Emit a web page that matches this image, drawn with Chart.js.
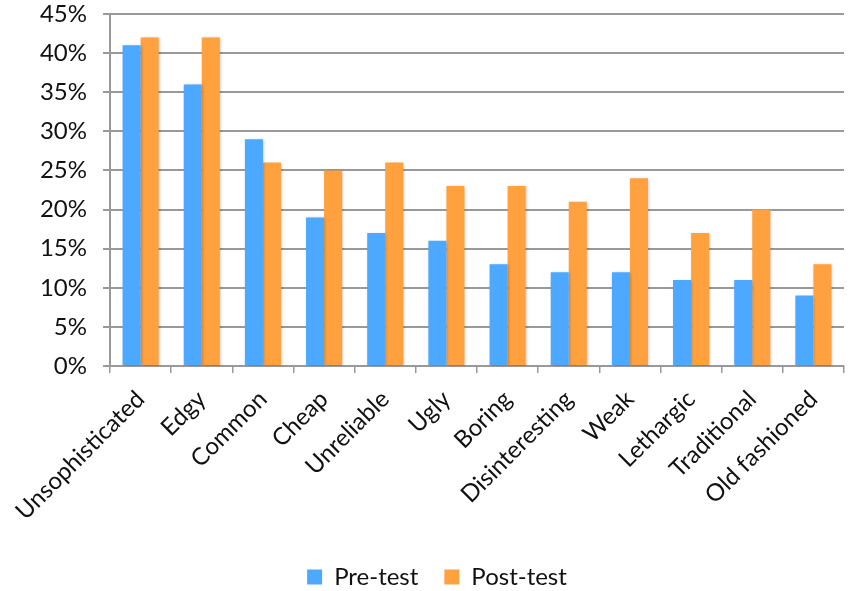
<!DOCTYPE html>
<html>
<head>
<meta charset="utf-8">
<script src="https://cdn.jsdelivr.net/npm/chart.js@4"></script>
<style>
  html, body { margin: 0; padding: 0; background: #fff; }
  #wrap { width: 852px; height: 591px; }
</style>
</head>
<body>
<div id="wrap"><canvas id="c" width="852" height="591"></canvas></div>
<script>
const categories = ['Unsophisticated', 'Edgy', 'Common', 'Cheap', 'Unreliable', 'Ugly',
  'Boring', 'Disinteresting', 'Weak', 'Lethargic', 'Traditional', 'Old fashioned'];
const preTest = [41, 36, 29, 19, 17, 16, 13, 12, 12, 11, 11, 9];
const postTest = [42, 42, 26, 25, 26, 23, 23, 21, 24, 17, 20, 13];
const seriesNames = ['Pre-test', 'Post-test'];

const FONT = 'Lato, "Open Sans", sans-serif';
const GRID = '#999999';

// soft drop shadow under the bars
const barShadow = {
  id: 'barShadow',
  beforeDatasetsDraw(chart) {
    const ctx = chart.ctx;
    ctx.save();
    ctx.shadowColor = 'rgba(0,0,0,0.25)';
    ctx.shadowBlur = 3;
    ctx.shadowOffsetX = 1;
    ctx.shadowOffsetY = 1;
  },
  afterDatasetsDraw(chart) {
    chart.ctx.restore();
  }
};

new Chart(document.getElementById('c'), {
  type: 'bar',
  data: {
    labels: categories,
    datasets: [
      { label: seriesNames[0], data: preTest, backgroundColor: '#4DA8FF' },
      { label: seriesNames[1], data: postTest, backgroundColor: '#FFA13F' }
    ]
  },
  plugins: [barShadow],
  options: {
    responsive: false,
    animation: false,
    devicePixelRatio: 1,
    layout: { padding: { left: 30, right: 8, top: 14, bottom: -8 } },
    datasets: { bar: { categoryPercentage: 0.59, barPercentage: 1.0 } },
    plugins: {
      title: { display: false },
      tooltip: { enabled: false },
      legend: {
        position: 'bottom',
        labels: {
          color: '#111',
          font: { family: FONT, size: 24 },
          boxWidth: 15,
          boxHeight: 15,
          padding: 26
        }
      }
    },
    scales: {
      x: {
        grid: { display: true, drawOnChartArea: false, drawTicks: true, tickLength: 7, offset: true, color: GRID, lineWidth: 1.5 },
        border: { display: true, color: GRID, width: 2 },
        ticks: {
          color: '#111',
          font: { family: FONT, size: 24 },
          minRotation: 45,
          maxRotation: 45,
          autoSkip: false,
          padding: 12
        },
        afterFit(scale) { scale.height = 173; }
      },
      y: {
        min: 0,
        max: 45,
        grid: { color: GRID, lineWidth: 2, tickLength: 7, drawTicks: true },
        border: { display: true, color: GRID, width: 2 },
        ticks: {
          stepSize: 5,
          color: '#111',
          font: { family: FONT, size: 24 },
          padding: 16,
          callback: v => v + '%'
        },
        afterFit(scale) {
          scale.width = 80;
          scale.paddingTop = 0;
          scale.paddingBottom = 0;
        }
      }
    }
  }
});
</script>
</body>
</html>
